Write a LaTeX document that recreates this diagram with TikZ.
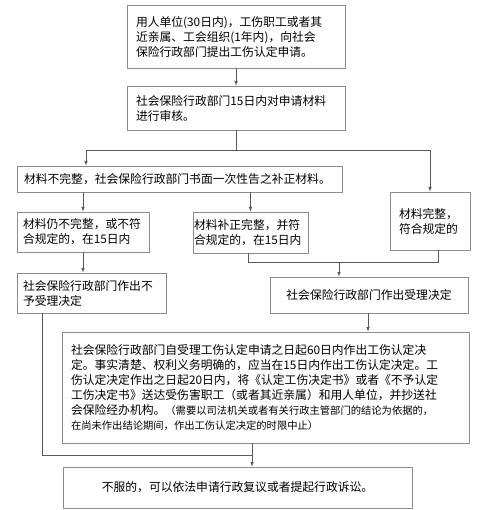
\documentclass[tikz,border=0pt]{standalone}
\usepackage{fontspec}
\setmainfont{Noto Sans CJK SC}
\usetikzlibrary{shapes,arrows}
\definecolor{boxgray}{rgb}{0.55,0.55,0.55}
\definecolor{linegray}{rgb}{0.35,0.35,0.35}

\begin{document}
\begin{tikzpicture}[x=1pt, y=-1pt, font=\fontsize{11.8}{15}\selectfont]
\tikzset{box/.style={rectangle, draw=boxgray, line width=0.8pt,
                     inner sep=0pt, align=left, anchor=center},
         link/.style={draw=linegray, line width=0.6pt},
         go/.style={link, -latex}}
\useasboundingbox (0,0) rectangle (480,510);

\node(req) [box, minimum width=218, minimum height=63, text width=200]
  at (236,36.5)
  {用人单位(30日内)，工伤职工或者其\\
   近亲属、工会组织(1年内)，向社会\\
   保险行政部门提出工伤认定申请。};

\node(review) [box, minimum width=218, minimum height=44, text width=200]
  at (236,108)
  {社会保险行政部门15日内对申请材料\\
   进行审核。};

\node(notify) [box, minimum width=325, minimum height=26, text width=311]
  at (179.5,179)
  {材料不完整，社会保险行政部门书面一次性告之补正材料。};

\node(stillbad) [box, minimum width=132, minimum height=40, text width=120]
  at (83,232)
  {材料仍不完整，或不符\\
   合规定的，在15日内};

\node(fixed) [box, minimum width=115, minimum height=41, text width=113]
  at (250.5,232.5)
  {材料补正完整，并符\\
   合规定的，在15日内};

\node(complete) [box, minimum width=80, minimum height=58, text width=62]
  at (430,221)
  {材料完整，\\
   符合规定的};

\node(reject) [box, minimum width=149, minimum height=40, text width=137]
  at (91.5,293)
  {社会保险行政部门作出不\\
   予受理决定};

\node(accept) [box, minimum width=198, minimum height=36, align=center]
  at (369,295)
  {社会保险行政部门作出受理决定};

\node(decide) [box, minimum width=407, minimum height=111, text width=389]
  at (265.5,387.5)
  {社会保险行政部门自受理工伤认定申请之日起60日内作出工伤认定决\\
   定。事实清楚、权利义务明确的，应当在15日内作出工伤认定决定。工\\
   伤认定决定作出之日起20日内，将《认定工伤决定书》或者《不予认定\\
   工伤决定书》送达受伤害职工（或者其近亲属）和用人单位，并抄送社\\
   会保险经办机构。{\fontsize{10.3}{15}\selectfont（需要以司法机关或者有关行政主管部门的结论为依据的，\\
   在尚未作出结论期间，作出工伤认定决定的时限中止）}};

\node(appeal) [box, minimum width=349, minimum height=41, align=center]
  at (237.5,487.5)
  {不服的，可以依法申请行政复议或者提起行政诉讼。};

\coordinate(split) at (236,150.5);
\coordinate(splitl) at (86,150.5);
\coordinate(splitr) at (430,150.5);
\coordinate(merge) at (339,262);
\coordinate(mergel) at (248,262);
\coordinate(merger) at (438,262);
\coordinate(join) at (252,455);
\coordinate(joinl) at (42,455);

\draw[go] (req.south) -- (review.north);
\draw[link] (review.south) -- (split);
\draw[link] (splitl) -- (splitr);
\draw[go] (splitl) -- (splitl |- notify.north);
\draw[go] (splitr) -- (complete.north);
\draw[go] (notify.south -| stillbad.north) -- (stillbad.north);
\draw[go] (notify.south -| fixed.north) -- (fixed.north);
\draw[go] (stillbad.south) -- (stillbad.south |- reject.north);
\draw[link] (fixed.south -| mergel) -- (mergel) -- (merger) -- (merger |- complete.south);
\draw[go] (merge) -- (merge |- accept.north);
\draw[go] (accept.south -| 368,0) -- (decide.north -| 368,0);
\draw[link] (reject.south -| joinl) -- (joinl) -- (join);
\draw[go] (decide.south -| join) -- (appeal.north -| join);

\end{tikzpicture}
\end{document}
